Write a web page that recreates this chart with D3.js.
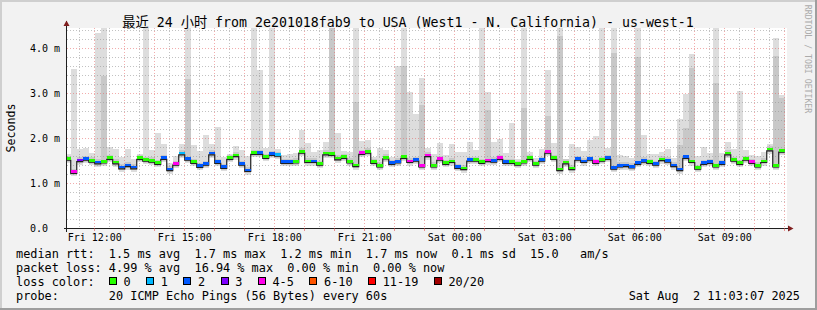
<!DOCTYPE html>
<html>
<head>
<meta charset="utf-8">
<script src="https://cdn.jsdelivr.net/npm/d3@7"></script>
<style>
  body { margin: 0; background: #f2f2f2; }
  svg { display: block; }
  text { font-family: "DejaVu Sans Mono", "Noto Sans CJK SC", monospace; fill: #000; white-space: pre; }
</style>
</head>
<body>
<svg width="817" height="310"></svg>
<script>
// 120 bins of 12 minutes, Fri 11:00 -> Sat 11:00 (values in ms)
var medianMs = [
  1.55,1.26,1.52,1.55,1.51,1.47,1.49,1.57,1.47,1.36, 1.41,1.36,1.57,1.53,1.51,1.46,1.57,1.32,1.44,1.67,
  1.55,1.48,1.39,1.44,1.67,1.48,1.37,1.57,1.63,1.44, 1.30,1.68,1.68,1.59,1.66,1.64,1.48,1.48,1.49,1.71,
  1.50,1.50,1.44,1.67,1.66,1.56,1.59,1.49,1.41,1.68, 1.71,1.48,1.40,1.58,1.46,1.49,1.59,1.50,1.53,1.40,
  1.63,1.40,1.55,1.46,1.50,1.37,1.34,1.53,1.53,1.48, 1.52,1.51,1.57,1.48,1.48,1.44,1.49,1.57,1.44,1.53,
  1.71,1.57,1.32,1.47,1.34,1.55,1.50,1.55,1.48,1.53, 1.57,1.35,1.40,1.41,1.38,1.46,1.51,1.48,1.44,1.54,
  1.51,1.41,1.32,1.59,1.50,1.35,1.46,1.48,1.40,1.46, 1.67,1.53,1.46,1.55,1.48,1.40,1.50,1.76,1.40,1.73
];
// lost pings out of 20 per bin
var lossCount = [
  0,4,3,2,0,2,0,0,0,2, 2,2,0,0,0,0,2,2,4,1,
  2,0,2,2,2,2,2,0,0,2, 2,0,2,0,2,1,2,2,0,0,
  0,2,0,0,0,0,0,0,0,4, 0,0,0,0,2,2,0,4,2,4,
  4,0,4,0,0,2,0,2,0,0, 4,2,4,2,0,0,0,0,0,2,
  4,0,0,0,0,2,2,2,4,0, 2,2,2,2,2,2,2,0,2,0,
  2,2,2,2,0,0,2,2,0,2, 0,0,0,0,4,0,0,0,0,0
];
// highest ping per bin (ms)
var smokeMax = [
  1.65,3.54,1.77,1.80,1.68,4.34,4.80,1.81,1.77,1.59, 1.77,1.55,1.65,4.80,1.74,2.12,1.88,1.45,1.62,1.88,
  4.80,1.86,1.72,2.08,1.88,2.26,1.59,1.65,1.83,1.74, 1.61,4.80,3.53,1.79,4.80,1.77,1.63,1.66,1.68,2.20,
  1.90,1.70,1.74,1.92,4.80,2.12,1.72,1.70,4.80,1.94, 1.97,1.60,1.80,1.74,1.60,3.61,4.80,3.03,2.55,3.34,
  1.78,1.65,1.90,1.63,1.88,1.70,1.70,1.92,1.74,4.80, 3.03,1.92,1.99,1.68,2.34,1.55,4.80,1.70,1.57,1.77,
  3.52,1.90,4.80,1.55,1.88,1.81,1.72,1.97,2.06,4.80, 1.79,4.80,1.63,1.62,1.57,4.80,2.08,1.66,1.66,1.70,
  1.77,1.57,2.43,3.00,3.87,1.62,1.81,1.68,4.80,1.68, 1.92,1.77,3.06,1.74,1.63,1.62,1.71,1.87,4.24,2.97
];
// second highest ping where it stands out (ms)
var smokeMid = [
  null,null,null,null,null,null,3.40,null,null,null, null,null,null,null,null,null,null,null,null,null,
  3.32,null,null,null,null,null,null,null,null,null, null,null,null,null,null,null,null,null,null,null,
  null,null,null,null,4.80,null,null,null,2.81,null, null,null,null,null,null,null,3.62,null,null,2.74,
  null,null,null,null,null,null,null,null,null,null, 2.63,null,null,null,null,null,2.68,null,null,null,
  2.49,null,4.28,null,null,null,null,null,null,null, null,3.91,null,null,null,3.81,null,null,null,null,
  null,null,1.86,2.23,3.56,null,null,null,3.23,null, null,null,null,null,null,null,null,null,3.83,2.90
];

var lossLabels = ["0", "1", "2", "3", "4-5", "6-10", "11-19", "20/20"];
var lossUpper  = [0, 1, 2, 3, 5, 10, 19, 20];
var lossColors = ["#26ff00", "#00b8ff", "#0059ff", "#7e00ff", "#ff00ea", "#ff5500", "#ff0000", "#a10000"];
var yTicks = [0, 1, 2, 3, 4];

var titleText = "最近 24 小时 from 2e201018fab9 to USA (West1 - N. California) - us-west-1";
var legendRows = [
  "median rtt:  1.5 ms avg  1.7 ms max  1.2 ms min  1.7 ms now  0.1 ms sd  15.0   am/s",
  "packet loss: 4.99 % avg  16.94 % max  0.00 % min  0.00 % now",
  "loss color:",
  "probe:       20 ICMP Echo Pings (56 Bytes) every 60s"
];
var stampText = "Sat Aug  2 11:03:07 2025";

var svg = d3.select("svg");
var W = 817, H = 310;
var X0 = 66.3, X1 = 786.3, Y0 = 228.5, YT = 28;

var tStart = new Date(2025, 7, 1, 11, 3, 7),
    tEnd   = new Date(2025, 7, 2, 11, 3, 7),
    binStart = new Date(2025, 7, 1, 11, 0, 0);

var x = d3.scaleTime().domain([tStart, tEnd]).range([X0, X1]);
var y = d3.scaleLinear().domain([0, (Y0 - YT) / 45]).range([Y0, YT]);

var bins = medianMs.map(function(m, i) {
  var t0 = d3.timeMinute.offset(binStart, 12 * i);
  return { t0: t0, t1: d3.timeMinute.offset(t0, 12), m: m, loss: lossCount[i],
           max: smokeMax[i], mid: smokeMid[i] };
});
function lossClass(n) { return lossUpper.findIndex(function(u) { return n <= u; }); }

// background + shade border
svg.append("rect").attr("width", W).attr("height", H).attr("fill", "#f2f2f2");
svg.append("path").attr("d", "M0,310V0H817").attr("fill", "none").attr("stroke", "#cfcfcf").attr("stroke-width", 4);
svg.append("path").attr("d", "M0,310H817V0").attr("fill", "none").attr("stroke", "#9e9e9e").attr("stroke-width", 4);

svg.append("rect").attr("x", 66).attr("y", YT).attr("width", 721).attr("height", Y0 - YT).attr("fill", "#fff");

svg.append("clipPath").attr("id", "plot").append("rect")
  .attr("x", 67).attr("y", YT).attr("width", 720).attr("height", Y0 - YT);

var g = svg.append("g").attr("clip-path", "url(#plot)").attr("shape-rendering", "crispEdges");

// smoke
g.selectAll(".s1").data(bins).enter().append("rect")
  .attr("x", function(d) { return x(d.t0); })
  .attr("width", function(d) { return x(d.t1) - x(d.t0); })
  .attr("y", function(d) { return y(d.max); })
  .attr("height", function(d) { return y(d.m - 0.1) - y(d.max); })
  .attr("fill", "#dddddd");
g.selectAll(".s2").data(bins).enter().append("rect")
  .attr("x", function(d) { return x(d.t0); })
  .attr("width", function(d) { return x(d.t1) - x(d.t0); })
  .attr("y", function(d) { return y(d.mid != null ? d.mid : d.m + 0.07); })
  .attr("height", function(d) { return y(d.m - 0.07) - y(d.mid != null ? d.mid : d.m + 0.07); })
  .attr("fill", "#c8c8c8");
g.selectAll(".s3").data(bins).enter().append("rect")
  .attr("x", function(d) { return x(d.t0); })
  .attr("width", function(d) { return x(d.t1) - x(d.t0); })
  .attr("y", function(d) { return y(d.m + 0.03); })
  .attr("height", function(d) { return y(d.m - 0.045) - y(d.m + 0.03); })
  .attr("fill", "#a9a9a9");

// grid, drawn over the smoke like rrdtool does
var grid = svg.append("g").attr("fill", "none").attr("stroke-dasharray", "1,2").attr("shape-rendering", "crispEdges");
var minorCol = "rgba(143,143,143,0.55)", majorCol = "rgba(230,90,90,0.5)";
var minorY = d3.range(0, 4.45, 0.2).filter(function(v) { return Math.abs(v - Math.round(v)) > 0.01; });
grid.selectAll(".hy").data(minorY).enter().append("line")
  .attr("x1", 67).attr("x2", 787)
  .attr("y1", function(v) { return Math.floor(y(v)) + 0.5; }).attr("y2", function(v) { return Math.floor(y(v)) + 0.5; })
  .attr("stroke", minorCol);
var minorX = d3.timeMinute.every(30).range(tStart, tEnd).filter(function(t) { return t.getMinutes() === 30; });
grid.selectAll(".vx").data(minorX).enter().append("line")
  .attr("y1", YT).attr("y2", Y0)
  .attr("x1", function(t) { return Math.floor(x(t)) + 0.5; }).attr("x2", function(t) { return Math.floor(x(t)) + 0.5; })
  .attr("stroke", minorCol);
grid.selectAll(".my").data(yTicks.slice(1)).enter().append("line")
  .attr("x1", 67).attr("x2", 787)
  .attr("y1", function(v) { return Math.floor(y(v)) + 0.5; }).attr("y2", function(v) { return Math.floor(y(v)) + 0.5; })
  .attr("stroke", majorCol);
var majorX = d3.timeHour.every(1).range(tStart, tEnd);
grid.selectAll(".mx").data(majorX).enter().append("line")
  .attr("y1", YT).attr("y2", Y0)
  .attr("x1", function(t) { return Math.floor(x(t)) + 0.5; }).attr("x2", function(t) { return Math.floor(x(t)) + 0.5; })
  .attr("stroke", majorCol);

// median line
var mg = svg.append("g").attr("clip-path", "url(#plot)");
var stepPts = bins.map(function(d) { return [x(d.t0), y(d.m) + 1.5]; });
stepPts.push([x(bins[bins.length - 1].t1), y(bins[bins.length - 1].m) + 1.5]);
mg.append("path").attr("d", d3.line().curve(d3.curveStepAfter)(stepPts))
  .attr("fill", "none").attr("stroke", "#202020").attr("stroke-width", 1.2);
mg.selectAll(".med").data(bins).enter().append("rect")
  .attr("shape-rendering", "crispEdges")
  .attr("x", function(d) { return x(d.t0); })
  .attr("width", function(d) { return x(d.t1) - x(d.t0); })
  .attr("y", function(d) { return y(d.m) - 1.5; })
  .attr("height", 2.6)
  .attr("fill", function(d) { return lossColors[lossClass(d.loss)]; });

// axes
var ax = svg.append("g").attr("shape-rendering", "crispEdges");
ax.append("line").attr("x1", 66.5).attr("x2", 66.5).attr("y1", 21).attr("y2", 231.5).attr("stroke", "#1f1f1f");
ax.append("line").attr("x1", 63.5).attr("x2", 789).attr("y1", 228.5).attr("y2", 228.5).attr("stroke", "#1f1f1f");
svg.append("path").attr("d", "M63.5,26L69.5,26L66.5,20.5Z").attr("fill", "#801f1f");
svg.append("path").attr("d", "M788,225.5L788,231.5L793.5,228.5Z").attr("fill", "#801f1f");
ax.selectAll(".tk").data(majorX).enter().append("line")
  .attr("x1", function(t) { return Math.floor(x(t)) + 0.5; }).attr("x2", function(t) { return Math.floor(x(t)) + 0.5; })
  .attr("y1", 228).attr("y2", 231).attr("stroke", "rgba(222,79,79,0.6)");

svg.append("g").selectAll("text").data(yTicks).enter().append("text")
  .attr("x", 30).attr("y", function(v) { return y(v) + 3.7; })
  .attr("font-size", "10px")
  .text(function(v) { return v.toFixed(1) + (v === 0 ? "  " : " m"); });

var labelTimes = d3.timeHour.every(3).range(tStart, tEnd);
svg.append("g").selectAll("text").data(labelTimes).enter().append("text")
  .attr("x", function(t) { return x(t); }).attr("y", 241)
  .attr("text-anchor", "middle").attr("font-size", "10px")
  .text(d3.timeFormat("%a %H:%M"));

// title and side texts
svg.append("text").attr("x", 408).attr("y", 26.5).attr("text-anchor", "middle")
  .attr("font-size", "13.26px").text(titleText);
svg.append("text").attr("transform", "translate(15,128) rotate(-90)").attr("text-anchor", "middle")
  .attr("font-size", "11.6px").text("Seconds");
svg.append("text").attr("transform", "translate(804.5,59) rotate(90)").attr("text-anchor", "middle")
  .attr("font-size", "8.2px").style("fill", "#ababab").text("RRDTOOL / TOBI OETIKER");

// legend
var LX = 16, CW = 7.14;
legendRows.forEach(function(r, i) {
  svg.append("text").attr("x", LX).attr("y", 257.7 + 14 * i).attr("font-size", "11.86px").text(r);
});
var bx = LX + 13 * CW;
lossLabels.forEach(function(lbl, i) {
  svg.append("rect").attr("x", Math.round(bx) + 0.5).attr("y", 277.5).attr("width", 7).attr("height", 7)
    .attr("fill", lossColors[i]).attr("stroke", "#000").attr("shape-rendering", "crispEdges");
  svg.append("text").attr("x", bx + 14.7).attr("y", 285.7).attr("font-size", "11.86px").text(lbl);
  bx += 14.7 + lbl.length * CW + 15.4;
});
svg.append("text").attr("x", 800).attr("y", 299.7).attr("text-anchor", "end")
  .attr("font-size", "11.86px").text(stampText);
</script>
</body>
</html>
